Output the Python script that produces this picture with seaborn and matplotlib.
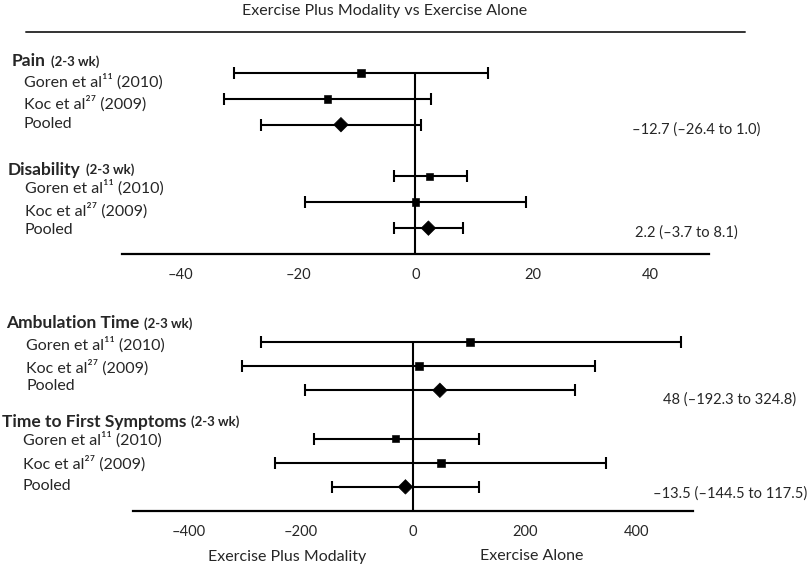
import pandas as pd
import matplotlib.pyplot as plt
import seaborn as sns
from matplotlib.lines import Line2D

# ---- data ----
study_labels = ["Goren et al\u00b9\u00b9 (2010)", "Koc et al\u00b2\u2077 (2009)", "Pooled"]
study_kind = ["study", "study", "pooled"]

pain_est = [-9.3, -15.0, -12.7]
pain_lo = [-31.0, -32.6, -26.4]
pain_hi = [12.4, 2.7, 1.0]

disab_est = [2.4, 0.0, 2.2]
disab_lo = [-3.7, -18.8, -3.7]
disab_hi = [8.7, 18.8, 8.1]

amb_est = [102, 11, 48]
amb_lo = [-271, -305, -192.3]
amb_hi = [478, 325, 290]

tfs_est = [-31, 50, -13.5]
tfs_lo = [-176, -246, -144.5]
tfs_hi = [117, 345, 117.5]

top_ticks = [-40, -20, 0, 20, 40]
top_ticklabels = ["\u201340", "\u201320", "0", "20", "40"]
bot_ticks = [-400, -200, 0, 200, 400]
bot_ticklabels = ["\u2013400", "\u2013200", "0", "200", "400"]

pooled_text = ["\u201312.7 (\u201326.4 to 1.0)", "2.2 (\u20133.7 to 8.1)",
               "48 (\u2013192.3 to 324.8)", "\u201313.5 (\u2013144.5 to 117.5)"]

sns.set_style("white")
plt.rcParams["font.family"] = ["Lato", "DejaVu Sans"]

W, H = 812, 565


def fx(x):
    return x / W


def fy(y):
    return 1 - y / H


def make_df(groups):
    rows = []
    for g, (est, lo, hi) in enumerate(groups):
        for i in range(3):
            rows.append({"row": 1 + g * 4 + i, "est": est[i], "lo": lo[i],
                         "hi": hi[i], "kind": study_kind[i]})
    return pd.DataFrame(rows)


def draw_panel(ax, df, xlim, ticks, ticklabels):
    ax.axvline(0, color="black", lw=1.5, zorder=1)
    ax.errorbar(df["est"], df["row"], xerr=[df["est"] - df["lo"], df["hi"] - df["est"]],
                fmt="none", ecolor="black", elinewidth=1.5, capsize=4.5, capthick=1.5,
                clip_on=False, zorder=2)
    sns.scatterplot(data=df, x="est", y="row", style="kind", size="kind",
                    markers={"study": "s", "pooled": "D"},
                    sizes={"study": 30, "pooled": 55},
                    color="black", edgecolor="black", legend=False, ax=ax,
                    clip_on=False, zorder=3)
    ax.set_xlim(*xlim)
    ax.set_ylim(8, 1)
    ax.set_xticks(ticks)
    ax.set_xticklabels(ticklabels, fontsize=10.5)
    ax.set_yticks([])
    ax.set_xlabel("")
    ax.set_ylabel("")
    ax.tick_params(axis="x", length=0, pad=10)
    for s in ["top", "left", "right"]:
        ax.spines[s].set_visible(False)
    ax.spines["bottom"].set_color("black")
    ax.spines["bottom"].set_linewidth(1.6)


fig = plt.figure(figsize=(W / 100, H / 100), dpi=100)
ax_top = fig.add_axes([fx(122), fy(254), 587 / W, 181 / H])
ax_bot = fig.add_axes([fx(133), fy(511), 560 / W, 169 / H])

draw_panel(ax_top, make_df([(pain_est, pain_lo, pain_hi), (disab_est, disab_lo, disab_hi)]),
           (-50, 50), top_ticks, top_ticklabels)
draw_panel(ax_bot, make_df([(amb_est, amb_lo, amb_hi), (tfs_est, tfs_lo, tfs_hi)]),
           (-500, 500), bot_ticks, bot_ticklabels)

# title and rule
fig.text(fx(385), fy(10), "Exercise Plus Modality vs Exercise Alone", ha="center",
         va="center_baseline", fontsize=11.5)
fig.add_artist(Line2D([fx(26), fx(745)], [fy(32), fy(32)], color="#333333", lw=1.4,
                      transform=fig.transFigure))

# left-hand labels
headers = [("Pain", 12, 60), ("Disability", 8, 168),
           ("Ambulation Time", 6, 322), ("Time to First Symptoms", 2, 420)]
label_x = [24, 25, 26, 23]
label_y = [[80, 102, 122], [186, 209, 228], [343, 366, 385], [438, 462, 484]]

head_texts = []
for (name, x, y) in headers:
    t = fig.text(fx(x), fy(y), name, fontsize=12.5, fontweight="bold",
                 ha="left", va="center_baseline")
    head_texts.append((t, y))

for k in range(4):
    for i in range(3):
        fig.text(fx(label_x[k]), fy(label_y[k][i]), study_labels[i], fontsize=11.5,
                 ha="left", va="center_baseline")

fig.canvas.draw()
r = fig.canvas.get_renderer()
for t, y in head_texts:
    bb = t.get_window_extent(renderer=r)
    fig.text((bb.x1 + 5) / W, fy(y + 1), "(2-3 wk)", fontsize=9.5, fontweight="bold",
             ha="left", va="center_baseline")

# pooled estimate text on the right
for (x, y), s in zip([(632, 128), (635, 231), (663, 398), (653, 492)], pooled_text):
    fig.text(fx(x), fy(y), s, fontsize=10.5, ha="left", va="center_baseline")

# axis captions
fig.text(fx(287), fy(555), "Exercise Plus Modality", fontsize=11.5, ha="center",
         va="center_baseline")
fig.text(fx(532), fy(555), "Exercise Alone", fontsize=11.5, ha="center",
         va="center_baseline")

fig.savefig("out.png", dpi=100)
